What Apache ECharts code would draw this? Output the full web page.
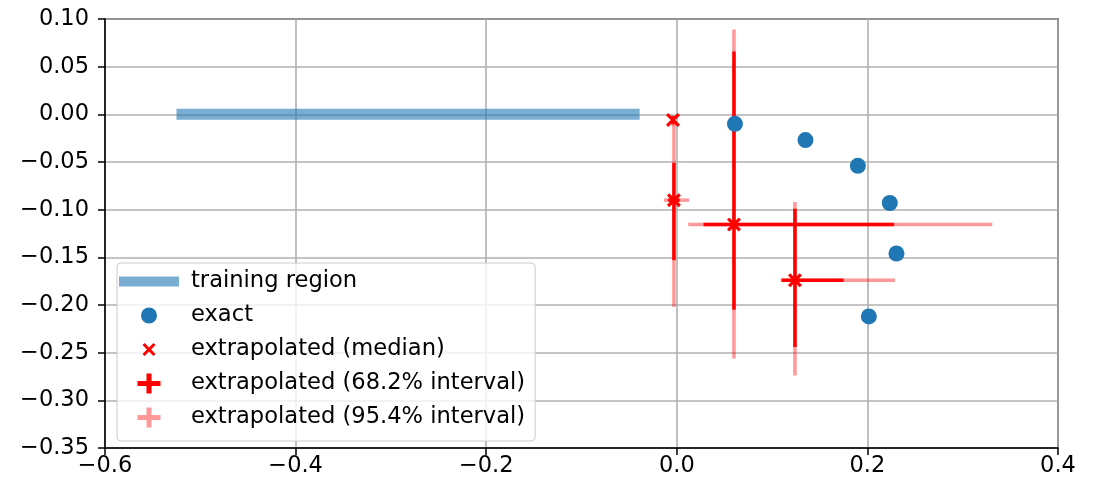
<!DOCTYPE html>
<html><head><meta charset="utf-8">
<script src="https://cdn.jsdelivr.net/npm/echarts@6/dist/echarts.min.js"></script>
<style>html,body{margin:0;padding:0;background:#fff}#c{width:1094px;height:484px}</style>
</head><body><div id="c"></div>
<script>
// ---- data ----
const trainX = [-0.525, -0.039];
const trainY = [0, 0];
const exactX = [0.061, 0.135, 0.190, 0.2235, 0.2305, 0.2015];
const exactY = [-0.010, -0.027, -0.054, -0.093, -0.146, -0.212];
const medX = [-0.004, -0.003, 0.060, 0.124];
const medY = [-0.006, -0.090, -0.1155, -0.174];
const x68Lo = [-0.004, -0.009, 0.028, 0.110];
const x68Hi = [-0.004, 0.003, 0.228, 0.175];
const y68Lo = [-0.010, -0.153, -0.205, -0.244];
const y68Hi = [-0.002, -0.051, 0.066, -0.099];
const x95Lo = [-0.004, -0.0136, 0.012, 0.109];
const x95Hi = [-0.004, 0.013, 0.331, 0.229];
const y95Lo = [-0.012, -0.202, -0.256, -0.274];
const y95Hi = [-0.001, -0.006, 0.089, -0.092];
const xTicks = [-0.6, 0.4, 0.2];
const yTicks = [-0.35, 0.10, 0.05];
const names = ['training region', 'exact', 'extrapolated (median)', 'extrapolated (68.2% interval)', 'extrapolated (95.4% interval)'];

const FONT = 'DejaVu Sans';
const minus = s => s.replace('-', '\u2212');
const corners = 'M0,0L0.01,0ZM60,20L59.99,20Z';
const icTrain = 'path://' + corners + 'M0,5H60V15H0Z';
const icCircle = 'path://' + corners + 'M22,10A8,8 0 1,0 38,10A8,8 0 1,0 22,10Z';
const icX = 'path://' + corners + 'M23.5,5.6L25.6,3.5L30,7.9L34.4,3.5L36.5,5.6L32.1,10L36.5,14.4L34.4,16.5L30,12.1L25.6,16.5L23.5,14.4L27.9,10Z';
const icPlus = 'path://' + corners + 'M18.5,7.5L27.5,7.5L27.5,0L32.5,0L32.5,7.5L41.5,7.5L41.5,12.5L32.5,12.5L32.5,20L27.5,20L27.5,12.5L18.5,12.5Z';
const symX = 'path://M0,2.1L2.1,0L6.5,4.4L10.9,0L13,2.1L8.6,6.5L13,10.9L10.9,13L6.5,8.6L2.1,13L0,10.9L4.4,6.5Z';

function errData(lx, hx, ly, hy) {
  return medX.map((x, i) => [x, medY[i], lx[i], hx[i], ly[i], hy[i]]);
}
function errRender(color) {
  return function (params, api) {
    const x = api.value(0), y = api.value(1);
    const a = api.coord([api.value(2), y]), b = api.coord([api.value(3), y]);
    const c = api.coord([x, api.value(4)]), d = api.coord([x, api.value(5)]);
    const st = { stroke: color, lineWidth: 3.5, lineCap: 'butt' };
    return { type: 'group', children: [
      { type: 'line', shape: { x1: a[0], y1: a[1], x2: b[0], y2: b[1] }, style: st },
      { type: 'line', shape: { x1: c[0], y1: c[1], x2: d[0], y2: d[1] }, style: st }
    ]};
  };
}

const chart = echarts.init(document.getElementById('c'), null, { renderer: 'canvas' });
chart.setOption({
  animation: false,
  textStyle: { fontFamily: FONT },
  grid: { left: 105, top: 19, right: 36, bottom: 36, show: true, borderColor: '#000', borderWidth: 1.5, backgroundColor: 'transparent' },
  xAxis: {
    type: 'value', min: xTicks[0], max: xTicks[1], interval: xTicks[2],
    axisLine: { show: true, onZero: false, lineStyle: { color: '#000', width: 1.5 } },
    axisTick: { show: true, length: 7, lineStyle: { color: '#000', width: 1.5 } },
    axisLabel: { color: '#000', fontSize: 22.5, fontFamily: FONT, margin: 7, formatter: v => minus(v.toFixed(1)) },
    splitLine: { show: true, lineStyle: { color: '#b0b0b0', width: 1.6 } }
  },
  yAxis: {
    type: 'value', min: yTicks[0], max: yTicks[1], interval: yTicks[2],
    axisLine: { show: true, onZero: false, lineStyle: { color: '#000', width: 1.5 } },
    axisTick: { show: true, length: 7, lineStyle: { color: '#000', width: 1.5 } },
    axisLabel: { color: '#000', fontSize: 22.5, fontFamily: FONT, margin: 16, formatter: v => minus(v.toFixed(2)) },
    splitLine: { show: true, lineStyle: { color: '#b0b0b0', width: 1.6 } }
  },
  legend: {
    orient: 'vertical', left: 117, top: 263,
    padding: [7, 10, 12, 2], itemGap: 11, itemWidth: 60, itemHeight: 20,
    backgroundColor: 'rgba(255,255,255,0.8)', borderColor: '#cccccc', borderWidth: 1, borderRadius: 4,
    textStyle: { fontSize: 22.6, fontFamily: FONT, color: '#000', lineHeight: 22, padding: [0, 0, 0, 7] },
    data: [
      { name: names[0], icon: icTrain, itemStyle: { color: 'rgba(31,119,180,0.6)', borderWidth: 0 } },
      { name: names[1], icon: icCircle, itemStyle: { color: '#1f77b4', borderWidth: 0 } },
      { name: names[2], icon: icX, itemStyle: { color: '#ff0000', borderWidth: 0 } },
      { name: names[3], icon: icPlus, itemStyle: { color: '#ff0000', borderWidth: 0 } },
      { name: names[4], icon: icPlus, itemStyle: { color: 'rgba(255,0,0,0.4)', borderWidth: 0 } }
    ]
  },
  series: [
    { name: names[0], type: 'line', data: trainX.map((x, i) => [x, trainY[i]]), symbol: 'none',
      lineStyle: { color: 'rgba(31,119,180,0.6)', width: 11, cap: 'butt' }, z: 2 },
    { name: names[4], type: 'custom', renderItem: errRender('rgba(255,0,0,0.4)'),
      data: errData(x95Lo, x95Hi, y95Lo, y95Hi), encode: { x: 0, y: 1 }, z: 3 },
    { name: names[3], type: 'custom', renderItem: errRender('#ff0000'),
      data: errData(x68Lo, x68Hi, y68Lo, y68Hi), encode: { x: 0, y: 1 }, z: 4 },
    { name: names[1], type: 'scatter', data: exactX.map((x, i) => [x, exactY[i]]), symbol: 'circle', symbolSize: 16,
      itemStyle: { color: '#1f77b4', opacity: 1 }, z: 5 },
    { name: names[2], type: 'scatter', data: medX.map((x, i) => [x, medY[i]]), symbol: symX, symbolSize: 14,
      itemStyle: { color: '#ff0000', opacity: 1 }, z: 6 }
  ]
});
</script></body></html>
